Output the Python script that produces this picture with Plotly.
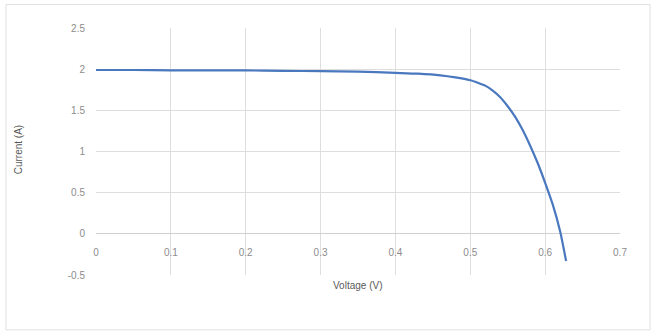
import plotly.graph_objects as go

voltage = [0, 0.05, 0.1, 0.15, 0.2, 0.25, 0.3, 0.35, 0.4, 0.43, 0.46, 0.48, 0.5,
           0.51, 0.52, 0.53, 0.54, 0.55, 0.56, 0.57, 0.58, 0.59, 0.6, 0.61, 0.62, 0.628]
current = [1.99, 1.99, 1.985, 1.985, 1.985, 1.98, 1.975, 1.97, 1.955, 1.945, 1.925, 1.9, 1.865,
           1.835, 1.8, 1.74, 1.66, 1.55, 1.42, 1.26, 1.07, 0.86, 0.62, 0.36, 0.03, -0.33]
x_ticks = [0, 0.1, 0.2, 0.3, 0.4, 0.5, 0.6, 0.7]
y_ticks = [-0.5, 0, 0.5, 1, 1.5, 2, 2.5]

W, H = 652, 331
L, R, T, B = 96, 620, 27.5, 275
pw, ph = R - L, B - T

def px(x):
    return (x - L) / pw

def py(y):
    return (B - y) / ph

font = dict(family="Liberation Sans, Arial, sans-serif", size=10, color="#8c8c8c")
title_font = dict(family="Liberation Sans, Arial, sans-serif", size=10, color="#595959")
grid = "#dedede"

fig = go.Figure()
fig.add_trace(go.Scatter(x=voltage, y=current, mode="lines",
                         line=dict(color="#4a78bf", width=2.2, shape="spline", smoothing=0.6),
                         showlegend=False, hoverinfo="skip"))
fig.add_trace(go.Scatter(x=[None], y=[None], xaxis="x2", showlegend=False))

fig.update_layout(
    width=W, height=H,
    margin=dict(l=L, r=W - R, t=T, b=H - B),
    paper_bgcolor="white", plot_bgcolor="white",
    xaxis=dict(range=[0, 0.7], tickvals=x_ticks, showticklabels=False, showgrid=True,
               gridcolor=grid, gridwidth=1, zeroline=False, showline=False, fixedrange=True),
    xaxis2=dict(range=[0, 0.7], tickvals=x_ticks, ticktext=[str(v) for v in x_ticks],
                overlaying="x", anchor="free", position=py(234), side="bottom",
                showgrid=False, zeroline=False, showline=False, ticks="", ticklabelstandoff=11,
                tickfont=font),
    yaxis=dict(range=[-0.5, 2.5], tickvals=y_ticks, ticktext=[str(v) for v in y_ticks],
               showgrid=True, gridcolor=grid, gridwidth=1, zeroline=True, zerolinecolor="#d0d0d0",
               zerolinewidth=1, showline=False, ticks="", ticklabelstandoff=10, tickfont=font),
    font=font,
    annotations=[
        dict(text="Current (A)", x=px(18), y=py(150), xref="paper", yref="paper", showarrow=False,
             xanchor="center", yanchor="middle", textangle=-90, font=title_font),
        dict(text="Voltage (V)", x=px(357), y=py(286), xref="paper", yref="paper", showarrow=False,
             xanchor="center", yanchor="middle", font=title_font),
    ],
    shapes=[
        dict(type="rect", xref="paper", yref="paper", x0=px(6), x1=px(650), y0=py(4), y1=py(330),
             line=dict(color="#e0e0e0", width=1), fillcolor="rgba(0,0,0,0)", layer="below"),
    ],
)

fig.write_html("out.html", config={"displayModeBar": False},
               post_script="document.body.style.margin='0';")
